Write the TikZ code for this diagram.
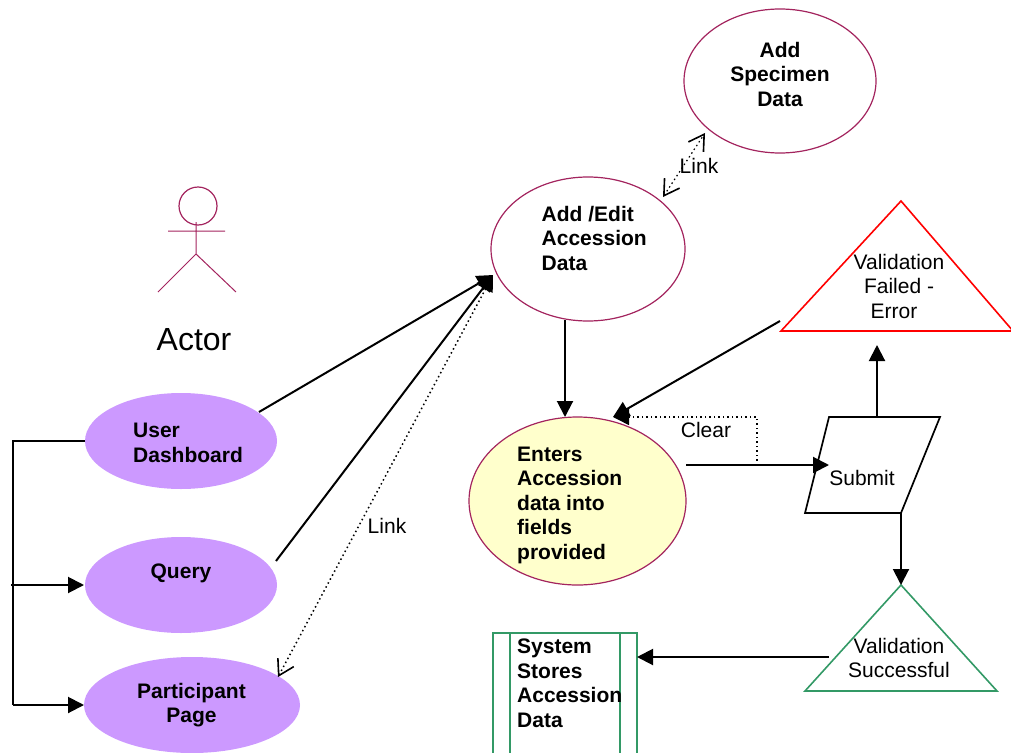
\documentclass[tikz,border=0pt]{standalone}
\usepackage{fontspec}
\setmainfont{Liberation Sans}
\usetikzlibrary{arrows.meta,shapes.geometric,calc}
\definecolor{maroonline}{HTML}{A3245E}
\definecolor{lilac}{HTML}{CC99FF}
\definecolor{paleyellow}{HTML}{FFFFCC}
\definecolor{storegreen}{HTML}{339966}
\tikzset{
  x=1pt,y=-1pt,
  usecase/.style={ellipse,draw=maroonline,line width=1.2pt,fill=white,inner sep=0pt},
  lilaccase/.style={ellipse,fill=lilac,draw=none,inner sep=0pt},
  txt/.style={font=\fontsize{21}{24.5}\selectfont,inner sep=0pt,align=center},
  btxt/.style={font=\fontsize{21}{24.5}\selectfont\bfseries,inner sep=0pt,align=center},
  bltxt/.style={btxt,align=left,anchor=west},
  conn/.style={draw=black,line width=2pt,-{Triangle[length=16pt,width=16pt]}},
  plain/.style={draw=black,line width=2pt},
  dotconn/.style={draw=black,line width=1.5pt,dash pattern=on 1.5pt off 3pt},
}
\begin{document}
\begin{tikzpicture}
\useasboundingbox (0,0) rectangle (1011,752);

% actor
\node[circle,draw=maroonline,line width=1.2pt,minimum size=38pt,inner sep=0pt] (head) at (198,206) {};
\coordinate (neck) at (196,222);
\coordinate (hip) at (196,254);
\coordinate (armL) at (168,231);
\coordinate (armR) at (225,231);
\coordinate (legL) at (158,292);
\coordinate (legR) at (236,292);
\draw[maroonline,line width=1pt] (neck) -- (hip) (armL) -- (armR) (legL) -- (hip) -- (legR);
\node[font=\fontsize{32}{36}\selectfont,inner sep=0pt] (actor) at (194,340) {Actor};

% use cases
\node[usecase,minimum width=192pt,minimum height=144pt] (spec) at (780,81) {};
\node[btxt] (specT) at (780,74) {Add\\Specimen\\Data};
\node[usecase,minimum width=194pt,minimum height=144pt] (edit) at (588,249) {};
\node[bltxt] (editT) at (541.5,238) {Add /Edit\\Accession\\Data};
\node[usecase,fill=paleyellow,minimum width=217pt,minimum height=168pt] (enter) at (577.5,501) {};
\node[bltxt] (enterT) at (517,505) {Enters\\Accession\\data into\\fields\\provided};
\node[lilaccase,minimum width=192pt,minimum height=96pt] (dash) at (181,441) {};
\node[bltxt] (dashT) at (133,443) {User\\Dashboard};
\node[lilaccase,minimum width=192pt,minimum height=96pt] (query) at (181,585) {};
\node[btxt] (queryT) at (181,573) {Query};
\node[lilaccase,minimum width=216pt,minimum height=96pt] (part) at (192,705) {};
\node[btxt] (partT) at (191.5,705) {Participant\\Page};

% failure triangle
\coordinate (failA) at (901,201);
\coordinate (failB) at (781,331);
\coordinate (failC) at (1013,331);
\draw[red,line width=1.6pt,line join=miter] (failA) -- (failB) -- (failC) -- cycle;
\node[txt] (failT) at (899,286) {Validation\\Failed -\\Error\hspace*{10pt}};

% success triangle
\coordinate (okA) at (901,585);
\coordinate (okB) at (805,691);
\coordinate (okC) at (997,691);
\draw[storegreen,line width=1.6pt] (okA) -- (okB) -- (okC) -- cycle;
\node[txt] (okT) at (899,658) {Validation\\Successful};

% submit parallelogram
\coordinate (subA) at (829,417);
\coordinate (subB) at (940,417);
\coordinate (subC) at (901,513);
\coordinate (subD) at (805,513);
\draw[black,line width=1.7pt] (subA) -- (subB) -- (subC) -- (subD) -- cycle;
\node[txt] (subT) at (862,478) {Submit};

% data store
\coordinate (stTL) at (493,633);
\coordinate (stTR) at (637,633);
\coordinate (stBL) at (493,753);
\coordinate (stBR) at (637,753);
\coordinate (stI1) at (510,633);
\coordinate (stI2) at (620,633);
\coordinate (stJ1) at (510,753);
\coordinate (stJ2) at (620,753);
\draw[storegreen,line width=1.6pt] (stBL) -- (stTL) -- (stTR) -- (stBR) (stI1) -- (stJ1) (stI2) -- (stJ2);
\node[bltxt] (stT) at (517,683.5) {System\\Stores\\Accession\\Data};

% connectors
\coordinate (editIn) at (493,275);
\coordinate (editDown) at (565,320);
\coordinate (enterTop) at (565,417);
\coordinate (enterIn) at (613,417);
\coordinate (failOut) at (780,321);
\coordinate (enterOut) at (686,465);
\coordinate (subIn) at (829,465);
\coordinate (clearTurn) at (757,465);
\coordinate (clearUp) at (757,417);
\coordinate (subTop) at (877,417);
\coordinate (failIn) at (877,345);
\coordinate (okOut) at (829,657);
\coordinate (stIn) at (637,657);
\coordinate (queryOut) at (276,561);
\coordinate (dashOut) at (259,412);
\coordinate (partIn) at (278,677);
\coordinate (linkA) at (663,197);
\coordinate (linkB) at (705,133);
\coordinate (busTop) at (13,441);
\coordinate (busBot) at (13,705);
\coordinate (busMid) at (11,585);
\coordinate (dashLeft) at (85,441);
\coordinate (queryLeft) at (84,585);
\coordinate (partLeft) at (84,705);

\draw[conn] (dashOut) -- (editIn);
\draw[conn] (queryOut) -- (editIn);
\draw[dotconn,{Straight Barb[length=15pt,width=18pt,line width=1.6pt]}-{Triangle[length=16pt,width=16pt]}] (partIn) -- (editIn);
\draw[dotconn,line width=1.2pt,{Straight Barb[length=15pt,width=18pt,line width=1.6pt]}-{Straight Barb[length=15pt,width=18pt,line width=1.6pt]}] (linkA) -- (linkB);
\draw[conn] (editDown) -- (enterTop);
\draw[conn] (failOut) -- (enterIn);
\draw[conn] (enterOut) -- (subIn);
\draw[dotconn,-{Triangle[length=16pt,width=16pt]}] (clearTurn) -- (clearUp) -- (enterIn);
\draw[conn] (subTop) -- (failIn);
\draw[conn] (subC) -- (okA);
\draw[conn] (okOut) -- (stIn);
\draw[plain] (dashLeft) -- (busTop) -- (busBot);
\draw[conn] (busBot) -- (partLeft);
\draw[conn] (busMid) -- (queryLeft);

\node[txt] (link1) at (699,166) {Link};
\node[txt] (link2) at (387,526) {Link};
\node[txt] (clear) at (706,430) {Clear};
\end{tikzpicture}
\end{document}
